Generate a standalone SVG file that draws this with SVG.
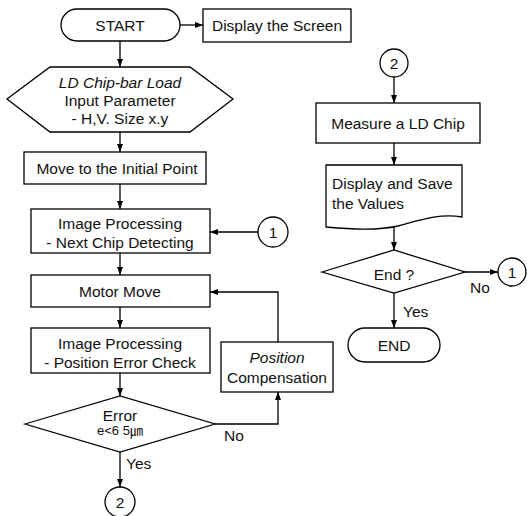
<svg xmlns="http://www.w3.org/2000/svg" width="527" height="516" viewBox="0 0 527 516">
  <style>
    .shape { fill: #ffffff; stroke: #000000; stroke-width: 1.3; }
    .wire { fill: none; stroke: #000000; stroke-width: 1.3; }
    text { font-family: "Liberation Sans", "Noto Sans CJK KR", sans-serif; font-size: 15.5px; fill: #111111; }
    .mid { text-anchor: middle; }
    .it { font-style: italic; }
  </style>
  <defs>
    <marker id="arrow" markerUnits="userSpaceOnUse" markerWidth="9" markerHeight="7" refX="8" refY="3.5" orient="auto">
      <path d="M0,0.5 L8,3.5 L0,6.5 z" fill="#000000"/>
    </marker>
  </defs>
  <rect width="527" height="516" fill="#ffffff"/>

  <!-- connectors -->
  <g id="connectors">
    <line class="wire" x1="180" y1="25" x2="203" y2="25" marker-end="url(#arrow)"/>
    <line class="wire" x1="120" y1="41" x2="120" y2="67" marker-end="url(#arrow)"/>
    <line class="wire" x1="120" y1="132" x2="120" y2="152" marker-end="url(#arrow)"/>
    <line class="wire" x1="120" y1="184" x2="120" y2="209" marker-end="url(#arrow)"/>
    <line class="wire" x1="258" y1="232" x2="210" y2="232" marker-end="url(#arrow)"/>
    <line class="wire" x1="120" y1="253" x2="120" y2="275" marker-end="url(#arrow)"/>
    <line class="wire" x1="120" y1="307" x2="120" y2="328" marker-end="url(#arrow)"/>
    <line class="wire" x1="120" y1="373" x2="120" y2="396" marker-end="url(#arrow)"/>
    <line class="wire" x1="120" y1="452" x2="120" y2="487" marker-end="url(#arrow)"/>
    <polyline class="wire" points="215,424 278,424 278,392" marker-end="url(#arrow)"/>
    <polyline class="wire" points="278,342 278,292 210,292" marker-end="url(#arrow)"/>
    <line class="wire" x1="394" y1="77" x2="394" y2="103" marker-end="url(#arrow)"/>
    <line class="wire" x1="394" y1="143" x2="394" y2="165" marker-end="url(#arrow)"/>
    <line class="wire" x1="394" y1="227" x2="394" y2="250" marker-end="url(#arrow)"/>
    <line class="wire" x1="465" y1="272" x2="498" y2="272" marker-end="url(#arrow)"/>
    <line class="wire" x1="394" y1="293" x2="394" y2="328" marker-end="url(#arrow)"/>
  </g>

  <!-- left column -->
  <g id="start">
    <rect class="shape" x="61" y="9" width="119" height="32" rx="16" ry="16"/>
    <text class="mid" x="120" y="30.5">START</text>
  </g>
  <g id="display-screen">
    <rect class="shape" x="203" y="9" width="148" height="33"/>
    <text class="mid" x="277" y="31">Display the Screen</text>
  </g>
  <g id="load-input">
    <polygon class="shape" points="7,99 50,67 190,67 233,99 190,132 50,132"/>
    <text class="mid it" x="120" y="87.5">LD Chip-bar Load</text>
    <text class="mid" x="120" y="105.5">Input Parameter</text>
    <text class="mid" x="120" y="123.5">- H,V. Size x.y</text>
  </g>
  <g id="initial-point">
    <rect class="shape" x="24" y="152" width="182" height="32"/>
    <text class="mid" x="117" y="173.5">Move to the Initial Point</text>
  </g>
  <g id="next-chip">
    <rect class="shape" x="31" y="209" width="179" height="44"/>
    <text class="mid" x="120" y="228.5">Image Processing</text>
    <text class="mid" x="120" y="247.5">- Next Chip Detecting</text>
  </g>
  <g id="connector-1a">
    <circle class="shape" cx="273" cy="232" r="15"/>
    <text class="mid" x="273" y="237.5">1</text>
  </g>
  <g id="motor-move">
    <rect class="shape" x="31" y="275" width="179" height="32"/>
    <text class="mid" x="120" y="297">Motor Move</text>
  </g>
  <g id="error-check">
    <rect class="shape" x="31" y="328" width="179" height="45"/>
    <text class="mid" x="120" y="348.5">Image Processing</text>
    <text class="mid" x="120" y="367.5">- Position Error Check</text>
  </g>
  <g id="error-decision">
    <polygon class="shape" points="25,424 120,396 215,424 120,452"/>
    <text class="mid" x="120" y="421">Error</text>
    <text class="mid" x="120" y="435" style="font-size:13px">e&lt;6 5㎛</text>
  </g>
  <g id="compensation">
    <rect class="shape" x="221" y="342" width="112" height="50"/>
    <text class="mid it" x="277" y="362.5">Position</text>
    <text class="mid" x="277" y="382.5">Compensation</text>
  </g>
  <g id="connector-2a">
    <circle class="shape" cx="120" cy="502" r="15"/>
    <text class="mid" x="120" y="507.5">2</text>
  </g>
  <text x="126" y="469">Yes</text>
  <text x="224" y="441">No</text>

  <!-- right column -->
  <g id="connector-2b">
    <circle class="shape" cx="394" cy="63" r="14"/>
    <text class="mid" x="394" y="68.5">2</text>
  </g>
  <g id="measure">
    <rect class="shape" x="316" y="103" width="164" height="40"/>
    <text class="mid" x="398" y="128.5">Measure a LD Chip</text>
  </g>
  <g id="save-values">
    <path class="shape" d="M326,165 H462 V217 C440,213 420,220 398,226 C376,231 350,229 326,227 Z"/>
    <text x="332" y="188.5">Display and Save</text>
    <text x="332" y="208.5">the Values</text>
  </g>
  <g id="end-decision">
    <polygon class="shape" points="322,272 394,250 465,272 394,293"/>
    <text class="mid" x="394" y="279.5">End ?</text>
  </g>
  <g id="connector-1b">
    <circle class="shape" cx="512" cy="272" r="14"/>
    <text class="mid" x="512" y="277.5">1</text>
  </g>
  <g id="end">
    <rect class="shape" x="348" y="328" width="92" height="34" rx="17" ry="17"/>
    <text class="mid" x="394" y="350.5">END</text>
  </g>
  <text x="403" y="317">Yes</text>
  <text x="470" y="293">No</text>
</svg>
